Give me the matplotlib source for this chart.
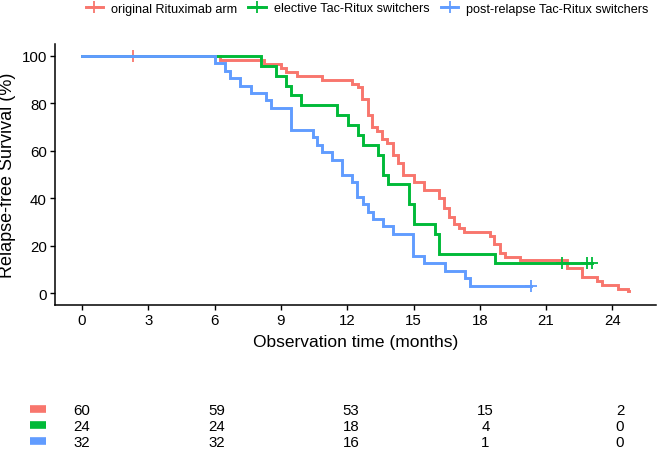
import matplotlib
matplotlib.use("Agg")
import matplotlib.pyplot as plt
from matplotlib.lines import Line2D

plt.rcParams['font.family'] = ['Liberation Sans', 'DejaVu Sans']

# group labels and colours
groups = ["original Rituximab arm", "elective Tac-Ritux switchers", "post-relapse Tac-Ritux switchers"]
colors = ["#F8766D", "#00BA38", "#619CFF"]

# step curves (months, % relapse-free)
red_t = [0, 6.24, 8.25, 9.00, 9.23, 9.71, 10.87, 12.23, 12.50, 12.68, 12.93, 13.14, 13.36,
         13.59, 13.81, 14.06, 14.29, 14.54, 15.04, 15.48, 16.15, 16.38, 16.61, 16.83, 17.06,
         17.29, 18.46, 18.66, 18.91, 19.14, 19.82, 21.93, 22.61, 23.29, 23.54, 24.24, 24.72]
red_s = [100, 98.3, 96.7, 95.0, 93.3, 91.7, 90.0, 88.3, 86.7, 81.7, 75.0, 70.0, 68.3,
         65.0, 63.3, 58.3, 55.0, 50.0, 46.7, 43.3, 40.0, 35.7, 32.2, 29.0, 27.3,
         25.9, 24.1, 20.6, 17.1, 15.4, 14.0, 10.5, 7.0, 5.3, 3.5, 1.8, 0.9]
red_end = 24.76
red_cens = [2.32]

green_t = [0, 8.10, 8.78, 9.23, 9.44, 9.91, 11.52, 12.02, 12.47, 12.73, 13.38, 13.61,
           13.86, 14.80, 15.02, 15.97, 16.17, 18.69]
green_s = [100, 95.8, 91.7, 87.5, 83.3, 79.2, 75.0, 70.8, 66.7, 62.5, 58.3, 50.0,
           45.8, 37.5, 29.2, 25.0, 16.7, 12.5]
green_end = 23.09
green_cens = [21.71, 22.86, 23.09]

blue_t = [0, 6.02, 6.47, 6.70, 7.15, 7.65, 8.33, 8.55, 9.46, 10.44, 10.65, 10.87, 11.33,
          11.78, 12.23, 12.46, 12.73, 12.95, 13.15, 13.63, 14.09, 14.99, 15.48, 16.43,
          17.33, 17.56]
blue_s = [100, 96.9, 93.75, 90.6, 87.5, 84.4, 81.25, 78.1, 68.75, 65.6, 62.5, 59.4, 56.25,
          50.0, 46.9, 40.6, 37.5, 34.4, 31.25, 28.1, 25.0, 15.6, 12.5, 9.4,
          6.25, 3.1]
blue_end = 20.32
blue_cens = [20.32]

# number at risk table
risk_times = [0, 6, 12, 18, 24]
risk_red = [60, 59, 53, 15, 2]
risk_green = [24, 24, 18, 4, 0]
risk_blue = [32, 32, 16, 1, 0]

x_ticks = [0, 3, 6, 9, 12, 15, 18, 21, 24]
y_ticks = [0, 20, 40, 60, 80, 100]

W, H = 664, 452
fig = plt.figure(figsize=(W / 100, H / 100), dpi=100)

def px_axes(x0, y0, x1, y1):
    return fig.add_axes([x0 / W, 1 - y1 / H, (x1 - x0) / W, (y1 - y0) / H])

ax = px_axes(54.6, 45, 656.4, 306)
curves = [(red_t, red_s, red_end, red_cens),
          (green_t, green_s, green_end, green_cens),
          (blue_t, blue_s, blue_end, blue_cens)]
for (t, s, end, cens), c in zip(curves, colors):
    ax.step(t + [end], s + [s[-1]], where='post', color=c, lw=2.1, solid_joinstyle='miter')
    cs = []
    for ct in cens:
        k = max(i for i in range(len(t)) if t[i] <= ct)
        cs.append(s[k])
    ax.plot(cens, cs, ls='none', marker='+', color=c, ms=9, mew=1.3)

ax.set_xlim(-1.24, 25.99)
ax.set_ylim(-5, 105)
ax.set_xticks(x_ticks)
ax.set_yticks(y_ticks)
ax.spines['top'].set_visible(False)
ax.spines['right'].set_visible(False)
for sp in ['left', 'bottom']:
    ax.spines[sp].set_linewidth(1.1)
ax.tick_params(length=3.5, width=1, labelsize=10.8, pad=2, colors='black')
ax.set_xlabel("Observation time (months)", fontsize=12.5, labelpad=5.5)
ax.set_ylabel("Relapse-free Survival (%)", fontsize=13, labelpad=4)

handles = [Line2D([0], [0], color=c, lw=2.1, marker='+', ms=9, mew=1.3) for c in colors]
fig.legend(handles, groups, loc='center', bbox_to_anchor=(367 / W, 1 - 9.5 / H), ncol=3,
           frameon=False, fontsize=9.1, handlelength=1.4, handletextpad=0.6,
           columnspacing=0.9, borderpad=0)

# risk table
rax = px_axes(54.6, 402, 656.4, 450)
rax.set_xlim(-1.22, 25.62)
rax.set_ylim(2.5, -0.5)
rax.axis('off')
for row, (vals, c) in enumerate(zip([risk_red, risk_green, risk_blue], colors)):
    rax.plot([-2.32, -1.61], [row, row], color=c, lw=5.5, solid_capstyle='butt', clip_on=False)
    for t, v in zip(risk_times, vals):
        rax.text(t, row + 0.08, str(v), ha='center', va='center', fontsize=10.8)

fig.savefig("out.png", dpi=100)
